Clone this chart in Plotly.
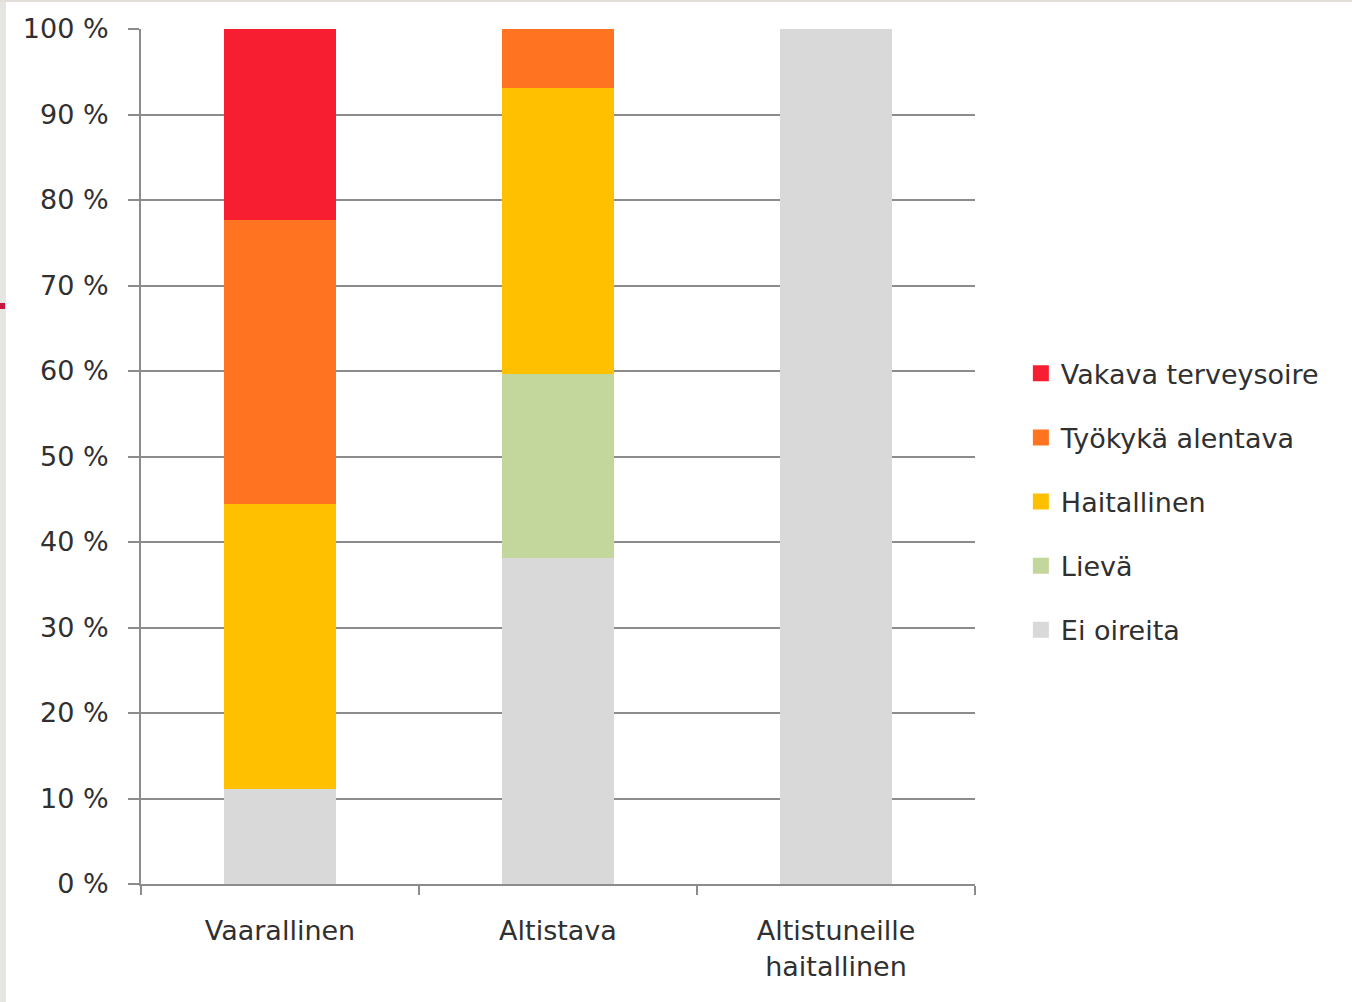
import plotly.graph_objects as go

categories = ["Vaarallinen", "Altistava", "Altistuneille<br>haitallinen"]
series_names = ["Ei oireita", "Lievä", "Haitallinen", "Työkykä alentava", "Vakava terveysoire"]
ei_oireita = [11.1, 38.1, 100.0]
lieva = [0.0, 21.5, 0.0]
haitallinen = [33.4, 33.5, 0.0]
tyokyky = [33.2, 6.9, 0.0]
vakava = [22.3, 0.0, 0.0]
colors = ["#D9D9D9", "#C3D69B", "#FFC000", "#FF7321", "#F71E32"]
y_ticks = [0, 10, 20, 30, 40, 50, 60, 70, 80, 90, 100]
y_tick_labels = [f"{v} %" for v in y_ticks]

values = [ei_oireita, lieva, haitallinen, tyokyky, vakava]

fig = go.Figure()
for i, (name, vals) in enumerate(zip(series_names, values)):
    fig.add_trace(go.Bar(x=categories, y=vals, name=name, marker_color=colors[i],
                         marker_line_width=0, showlegend=False))
# legend entries (square markers, top-down order like the reference)
n = len(series_names)
for i, name in enumerate(series_names):
    fig.add_trace(go.Scatter(x=[None], y=[None], mode="markers", name=name,
                             marker=dict(symbol="square", size=17, color=colors[i]),
                             legendrank=n - i, legendgroup=name))

# frame artifacts of the original screenshot
L, R, T, B = 141, 975, 29, 884
def px(x):
    return (x - L) / (R - L)
def py(y):
    return (B - y) / (B - T)

shapes = [
    dict(type="rect", xref="paper", yref="paper", x0=px(0), x1=px(6), y0=py(1002), y1=py(0),
         fillcolor="#E7E5E2", line_width=0, layer="above"),
    dict(type="rect", xref="paper", yref="paper", x0=px(0), x1=px(1352), y0=py(2), y1=py(0),
         fillcolor="#E2DED9", line_width=0, layer="above"),
    dict(type="rect", xref="paper", yref="paper", x0=px(0), x1=px(5), y0=py(309), y1=py(303),
         fillcolor="#C8173F", line_width=0, layer="above"),
]

font = "DejaVu Sans"
fig.update_layout(
    barmode="stack",
    bargap=0.6,
    width=1352, height=1002,
    margin=dict(l=L, r=1352 - R, t=T, b=1002 - B),
    paper_bgcolor="white",
    plot_bgcolor="white",
    font=dict(family=font, size=27, color="#303030"),
    showlegend=True,
    legend=dict(x=1.055, y=0.447, yanchor="middle", xanchor="left",
                traceorder="grouped", tracegroupgap=26,
                font=dict(size=27), itemwidth=30),
    shapes=shapes,
    yaxis=dict(range=[0, 100], tickvals=y_ticks, ticktext=y_tick_labels,
               showgrid=True, gridcolor="#8C8C8C", gridwidth=2,
               showline=True, linecolor="#8C8C8C", linewidth=2,
               ticks="outside", ticklen=11, tickcolor="#8C8C8C", tickwidth=2,
               zeroline=False, layer="below traces", ticklabelstandoff=14),
    xaxis=dict(showline=True, linecolor="#8C8C8C", linewidth=2,
               ticks="outside", tickson="boundaries", ticklen=9,
               tickcolor="#8C8C8C", tickwidth=2, showgrid=False,
               ticklabelstandoff=22),
)

fig.write_html("out.html")
